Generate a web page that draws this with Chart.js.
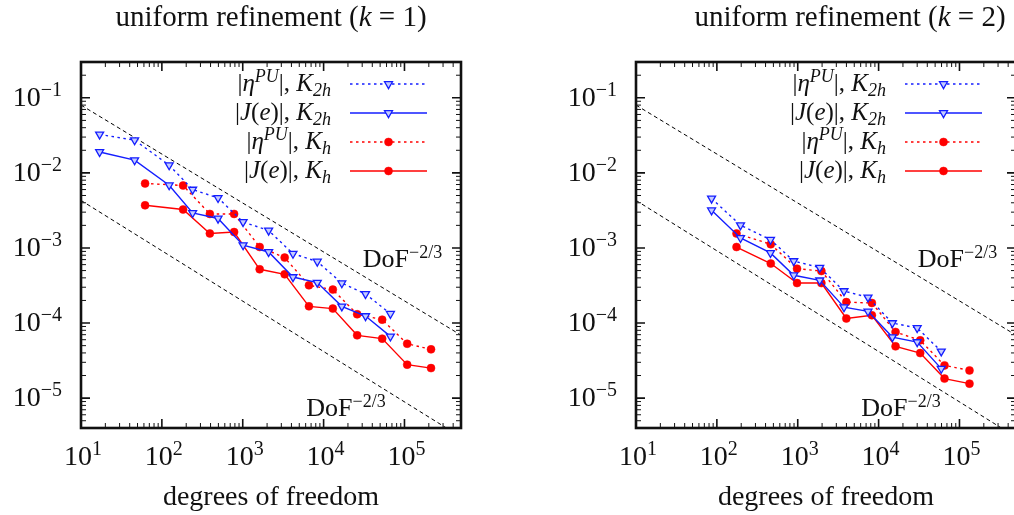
<!DOCTYPE html>
<html>
<head>
<meta charset="utf-8">
<script src="https://cdn.jsdelivr.net/npm/chart.js@4.4.0/dist/chart.umd.min.js"></script>
<style>
html, body { margin: 0; padding: 0; background: #fff; overflow: hidden; }
#wrap { position: relative; width: 1014px; height: 515px; overflow: hidden; }
#wrap canvas { position: absolute; top: 0; }
#chart1 { left: 0; }
#chart2 { left: 507px; }
</style>
</head>
<body>
<div id="wrap">
  <canvas id="chart1" width="507" height="515"></canvas>
  <canvas id="chart2" width="520" height="515"></canvas>
</div>
<script>
// ---- k = 1 ----
var k1Dof2h = [17, 46, 123, 240, 495, 1010, 2090, 4180, 8350, 16800, 33000, 67000];
var k1Eta2h = [0.0325, 0.0273, 0.0127, 0.0060, 0.00464, 0.00222, 0.00171, 8.4e-4, 6.6e-4, 3.4e-4, 2.44e-4, 1.33e-4];
var k1J2h   = [0.019, 0.0148, 0.00686, 0.00293, 0.00247, 0.00109, 8.85e-4, 4.1e-4, 3.46e-4, 1.67e-4, 1.24e-4, 6.65e-5];
var k1Dofh  = [62, 183, 392, 782, 1620, 3300, 6590, 13000, 26000, 53000, 108000, 213000];
var k1Etah  = [0.00723, 0.0068, 0.00284, 0.00284, 0.00103, 7.44e-4, 3.18e-4, 2.79e-4, 1.31e-4, 1.11e-4, 5.3e-5, 4.46e-5];
var k1Jh    = [0.0037, 0.00325, 0.00156, 0.00163, 5.2e-4, 4.46e-4, 1.67e-4, 1.56e-4, 6.86e-5, 6.2e-5, 2.79e-5, 2.51e-5];

// ---- k = 2 ----
var k2Dof2h = [86, 196, 460, 893, 1870, 3730, 7390, 14800, 30000, 59500];
var k2Eta2h = [0.00456, 0.00201, 0.00129, 6.7e-4, 5.48e-4, 2.67e-4, 2.2e-4, 1.0e-4, 8.6e-5, 4.2e-5];
var k2J2h   = [0.00318, 0.00136, 8.6e-4, 4.33e-4, 3.71e-4, 1.63e-4, 1.43e-4, 6.5e-5, 5.58e-5, 2.47e-5];
var k2Dofh  = [175, 464, 980, 1960, 3990, 8260, 16200, 32700, 65300, 133000];
var k2Etah  = [0.00156, 0.00112, 5.3e-4, 4.93e-4, 1.9e-4, 1.85e-4, 7.6e-5, 5.88e-5, 2.73e-5, 2.34e-5];
var k2Jh    = [0.00103, 6.2e-4, 3.41e-4, 3.41e-4, 1.15e-4, 1.27e-4, 4.89e-5, 3.98e-5, 1.82e-5, 1.56e-5];

// DoF^-2/3 guide lines (end points, same in both panels)
var guideHighX = [10, 500000], guideHighY = [0.08, 6.9e-5];
var guideLowX  = [10, 330000], guideLowY  = [0.0043, 4e-6];

// ticks
var xTickVals = [10, 100, 1000, 10000, 100000];
var xTickExp  = ['1', '2', '3', '4', '5'];
var yTickVals = [1e-1, 1e-2, 1e-3, 1e-4, 1e-5];
var yTickExp  = ['\u22121', '\u22122', '\u22123', '\u22124', '\u22125'];

// texts: [text, style]  r roman, i italic, sup/supi, sub/subi
var lblEta2h = [['|', 'r'], ['\u03b7', 'i'], ['PU', 'supi'], ['|, ', 'r'], ['K', 'i'], ['2h', 'subi']];
var lblJ2h   = [['|', 'r'], ['J', 'i'], ['(', 'r'], ['e', 'i'], [')|, ', 'r'], ['K', 'i'], ['2h', 'subi']];
var lblEtah  = [['|', 'r'], ['\u03b7', 'i'], ['PU', 'supi'], ['|, ', 'r'], ['K', 'i'], ['h', 'subi']];
var lblJh    = [['|', 'r'], ['J', 'i'], ['(', 'r'], ['e', 'i'], [')|, ', 'r'], ['K', 'i'], ['h', 'subi']];
var lblGuide = [['DoF', 'r'], ['\u22122/3', 'sup']];
var titleK1  = [['uniform refinement (', 'r'], ['k', 'i'], [' = 1)', 'r']];
var titleK2  = [['uniform refinement (', 'r'], ['k', 'i'], [' = 2)', 'r']];

var ink = '#111';
var fam = '"Liberation Serif", serif';

function partFont(st, size) {
  var it = st.charAt(st.length - 1) === 'i';
  var sm = st.indexOf('su') === 0;
  return (it ? 'italic ' : '') + Math.round(sm ? size * 0.7 : size) + 'px ' + fam;
}
function partShift(st, size) {
  if (st.indexOf('sup') === 0) return -0.36 * size;
  if (st.indexOf('sub') === 0) return 0.2 * size;
  return 0;
}
function drawRich(ctx, parts, x, y, align, size) {
  var w = 0, widths = [];
  parts.forEach(function (p) {
    ctx.font = partFont(p[1], size);
    var m = ctx.measureText(p[0]).width;
    widths.push(m); w += m;
  });
  var cx = align === 'right' ? x - w : (align === 'center' ? x - w / 2 : x);
  ctx.textAlign = 'left';
  ctx.textBaseline = 'alphabetic';
  parts.forEach(function (p, i) {
    ctx.font = partFont(p[1], size);
    ctx.fillText(p[0], cx, y + partShift(p[1], size));
    cx += widths[i];
  });
}

function series(xs, ys) {
  return xs.map(function (x, i) { return { x: x, y: ys[i] }; });
}

// frame, inward ticks, tick labels, title, legend, guide labels
var decor = {
  id: 'decor',
  afterDraw: function (chart, args, opts) {
    var ctx = chart.ctx, a = chart.chartArea;
    var xs = chart.scales.x, ys = chart.scales.y;
    ctx.save();
    ctx.strokeStyle = ink;
    ctx.fillStyle = ink;

    function ticks(major) {
      ctx.beginPath();
      var e, m, v, p, len = major ? 9 : 5;
      for (e = 1; e <= 5; e++) for (m = 1; m <= 9; m++) {
        if ((m === 1) !== major) continue;
        v = m * Math.pow(10, e);
        if (v < xs.min || v > xs.max) continue;
        p = xs.getPixelForValue(v);
        ctx.moveTo(p, a.bottom); ctx.lineTo(p, a.bottom - len);
        ctx.moveTo(p, a.top); ctx.lineTo(p, a.top + len);
      }
      for (e = -6; e <= -1; e++) for (m = 1; m <= 9; m++) {
        if ((m === 1) !== major) continue;
        v = m * Math.pow(10, e);
        if (v < ys.min || v > ys.max) continue;
        p = ys.getPixelForValue(v);
        ctx.moveTo(a.left, p); ctx.lineTo(a.left + len, p);
        ctx.moveTo(a.right, p); ctx.lineTo(a.right - len, p);
      }
      ctx.stroke();
    }
    ctx.lineWidth = 1;
    ticks(false);
    ctx.lineWidth = 1.6;
    ticks(true);

    ctx.lineWidth = 2.6;
    ctx.strokeRect(a.left, a.top, a.right - a.left, a.bottom - a.top);

    // tick labels
    xTickVals.forEach(function (v, i) {
      drawRich(ctx, [['10', 'r'], [xTickExp[i], 'sup']], xs.getPixelForValue(v) + 2, a.bottom + 37, 'center', 28);
    });
    yTickVals.forEach(function (v, i) {
      drawRich(ctx, [['10', 'r'], [yTickExp[i], 'sup']], a.left - 19, ys.getPixelForValue(v) + 8, 'right', 28);
    });

    // title
    drawRich(ctx, opts.title, (a.left + a.right) / 2 + opts.titleShift, a.top - 36, 'center', 29);

    // guide labels
    opts.guideAt.forEach(function (g) {
      drawRich(ctx, lblGuide, xs.getPixelForValue(g[0]), ys.getPixelForValue(g[1]), 'left', 26);
    });

    // legend
    var row = 0;
    chart.data.datasets.forEach(function (ds) {
      if (!ds.legendParts) return;
      var y = a.top + 22 + row * 29;
      var x0 = a.right - 111, x1 = a.right - 34;
      ctx.fillStyle = ink;
      drawRich(ctx, ds.legendParts, a.right - 130, y + 7, 'right', 25);
      ctx.save();
      ctx.strokeStyle = ds.borderColor;
      ctx.lineWidth = ds.borderWidth;
      ctx.setLineDash(ds.borderDash || []);
      ctx.beginPath(); ctx.moveTo(x0, y); ctx.lineTo(x1, y); ctx.stroke();
      ctx.setLineDash([]);
      ctx.fillStyle = ds.pointBackgroundColor;
      ctx.strokeStyle = ds.pointBorderColor;
      ctx.lineWidth = ds.pointBorderWidth;
      Chart.helpers.drawPoint(ctx, {
        pointStyle: ds.pointStyle, rotation: ds.pointRotation,
        radius: ds.pointRadius, borderWidth: ds.pointBorderWidth
      }, (x0 + x1) / 2, y);
      ctx.restore();
      row++;
    });
    ctx.restore();
  }
};

function blueSet(parts, xs, ys, dashed) {
  return {
    label: parts.map(function (p) { return p[0]; }).join(''),
    legendParts: parts,
    data: series(xs, ys),
    showLine: true,
    borderColor: 'rgb(20,30,255)',
    borderWidth: 1.4,
    borderDash: dashed ? [2.5, 3.5] : [],
    pointStyle: 'triangle',
    pointRotation: 180,
    pointRadius: 4.6,
    pointBorderWidth: 1.3,
    pointBorderColor: 'rgb(20,30,255)',
    pointBackgroundColor: '#c4ccff'
  };
}
function redSet(parts, xs, ys, dashed) {
  return {
    label: parts.map(function (p) { return p[0]; }).join(''),
    legendParts: parts,
    data: series(xs, ys),
    showLine: true,
    borderColor: 'rgb(255,0,0)',
    borderWidth: 1.4,
    borderDash: dashed ? [2.5, 3.5] : [],
    pointStyle: 'circle',
    pointRadius: 4,
    pointBorderWidth: 0.5,
    pointBorderColor: 'rgb(255,0,0)',
    pointBackgroundColor: 'rgb(255,0,0)'
  };
}
function guideSet(xs, ys) {
  return {
    label: 'DoF^-2/3',
    data: series(xs, ys),
    showLine: true,
    borderColor: '#000',
    borderWidth: 1,
    borderDash: [4, 3],
    pointRadius: 0
  };
}

function makePanel(id, yAxisWidth, padRight, title, titleShift, sets) {
  return new Chart(document.getElementById(id), {
    type: 'scatter',
    data: { datasets: sets },
    options: {
      responsive: false,
      animation: false,
      events: [],
      layout: { padding: { top: 62, right: padRight, left: 0, bottom: 0 } },
      plugins: {
        legend: { display: false },
        tooltip: { enabled: false },
        decor: { title: title, titleShift: titleShift, guideAt: [[30500, 5.6e-4], [6100, 5.7e-6]] }
      },
      scales: {
        x: {
          type: 'logarithmic', min: 10, max: 500000,
          grid: { display: false }, border: { display: false },
          ticks: { display: false },
          title: { display: true, text: 'degrees of freedom', color: ink,
                   font: { family: fam, size: 28 }, padding: { top: 0, bottom: 1 } },
          afterFit: function (s) { s.height = 87; }
        },
        y: {
          type: 'logarithmic', min: 4e-6, max: 0.3,
          grid: { display: false }, border: { display: false },
          ticks: { display: false },
          afterFit: function (s) { s.width = yAxisWidth; }
        }
      }
    },
    plugins: [decor]
  });
}

makePanel('chart1', 81, 46, titleK1, 0, [
  blueSet(lblEta2h, k1Dof2h, k1Eta2h, true),
  blueSet(lblJ2h, k1Dof2h, k1J2h, false),
  redSet(lblEtah, k1Dofh, k1Etah, true),
  redSet(lblJh, k1Dofh, k1Jh, false),
  guideSet(guideHighX, guideHighY),
  guideSet(guideLowX, guideLowY)
]);

makePanel('chart2', 129, 11, titleK2, 24, [
  blueSet(lblEta2h, k2Dof2h, k2Eta2h, true),
  blueSet(lblJ2h, k2Dof2h, k2J2h, false),
  redSet(lblEtah, k2Dofh, k2Etah, true),
  redSet(lblJh, k2Dofh, k2Jh, false),
  guideSet(guideHighX, guideHighY),
  guideSet(guideLowX, guideLowY)
]);
</script>
</body>
</html>
